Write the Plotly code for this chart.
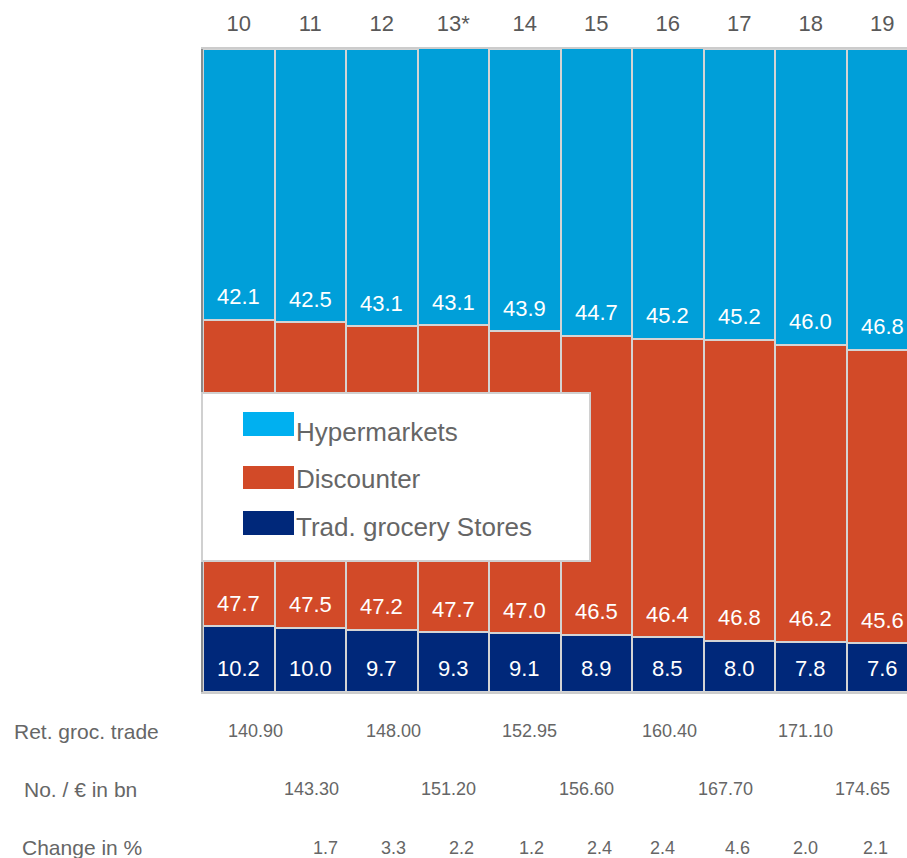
import plotly.graph_objects as go

# ---- data ----
years = ["10", "11", "12", "13*", "14", "15", "16", "17", "18", "19"]
hyper = [42.1, 42.5, 43.1, 43.1, 43.9, 44.7, 45.2, 45.2, 46.0, 46.8]
disc = [47.7, 47.5, 47.2, 47.7, 47.0, 46.5, 46.4, 46.8, 46.2, 45.6]
trad = [10.2, 10.0, 9.7, 9.3, 9.1, 8.9, 8.5, 8.0, 7.8, 7.6]
series_names = ["Hypermarkets", "Discounter", "Trad. grocery Stores"]

ret_vals = ["140.90", "148.00", "152.95", "160.40", "171.10"]
no_vals = ["143.30", "151.20", "156.60", "167.70", "174.65"]
chg_vals = ["1.7", "3.3", "2.2", "1.2", "2.4", "2.4", "4.6", "2.0", "2.1"]
row_labels = ["Ret. groc. trade", "No. / € in bn", "Change in %"]

# ---- style / positions ----
FONT = "Arial, Liberation Sans, sans-serif"
C_HYP = "#009FD9"
C_DIS = "#D24A28"
C_TRA = "#00287A"
C_LEG_HYP = "#00B0F0"
GRAY = "#666666"
W, H = 907, 858
L, T, B = 203, 49, 166
PW = W - L
PH = H - T - B
BARW = 71.5

def px_x(px):
    return (px - L) / PW

def px_y(py):
    return (T + PH - py) / PH

ret_x = [0.24, 2.16, 4.07, 6.03, 7.93]
no_x = [1.02, 2.94, 4.87, 6.81, 8.72]
chg_x = [1.21, 2.16, 3.12, 4.09, 5.05, 5.92, 6.98, 7.93, 8.90]

fig = go.Figure()
idx = list(range(len(years)))
for vals, col, name in [(trad, C_TRA, series_names[2]), (disc, C_DIS, series_names[1]), (hyper, C_HYP, series_names[0])]:
    fig.add_trace(go.Bar(x=idx, y=vals, name=name, marker=dict(color=col, line=dict(color="#d4d4d4", width=2)),
                         showlegend=False, hoverinfo="skip"))

annotations = []
for i in idx:
    bases = [0, trad[i], trad[i] + disc[i]]
    vals = [trad[i], disc[i], hyper[i]]
    shifts = [24, 23, 23]
    for b, v, s in zip(bases, vals, shifts):
        annotations.append(dict(x=i, y=b, xref="x", yref="y", text=f"{v:.1f}", showarrow=False,
                                yanchor="middle", yshift=s, font=dict(family=FONT, size=22, color="white")))

# bottom table
row_y = [px_y(731), px_y(789), px_y(848)]
row_lx = [px_x(12), px_x(22), px_x(20)]
for lab, yy, xx in zip(row_labels, row_y, row_lx):
    annotations.append(dict(x=xx, y=yy, xref="paper", yref="paper", text=lab, showarrow=False,
                            xanchor="left", yanchor="middle", font=dict(family=FONT, size=21, color=GRAY)))
for vals, xs, yy in [(ret_vals, ret_x, row_y[0]), (no_vals, no_x, row_y[1]), (chg_vals, chg_x, row_y[2])]:
    for v, xx in zip(vals, xs):
        annotations.append(dict(x=xx, y=yy, xref="x", yref="paper", text=v, showarrow=False,
                                xanchor="center", yanchor="middle", font=dict(family=FONT, size=18, color=GRAY)))

# custom legend
shapes = [dict(type="rect", xref="paper", yref="paper", x0=px_x(202), x1=px_x(590), y0=px_y(561), y1=px_y(393),
               fillcolor="white", line=dict(color="#d0d0d0", width=2), layer="above")]
leg_items = [(series_names[0], C_LEG_HYP, 412, 436, 432), (series_names[1], C_DIS, 466, 489, 479),
             (series_names[2], C_TRA, 511, 535, 527)]
for name, col, y0, y1, ty in leg_items:
    shapes.append(dict(type="rect", xref="paper", yref="paper", x0=px_x(243), x1=px_x(294), y0=px_y(y1), y1=px_y(y0),
                       fillcolor=col, line=dict(width=0), layer="above"))
    annotations.append(dict(x=px_x(294), y=px_y(ty), xref="paper", yref="paper", text=name, showarrow=False,
                            xanchor="left", yanchor="middle", font=dict(family=FONT, size=26, color=GRAY)))

fig.update_layout(
    width=W, height=H, margin=dict(l=L, r=0, t=T, b=B, pad=0),
    barmode="stack", bargap=0,
    paper_bgcolor="white", plot_bgcolor="white",
    annotations=annotations, shapes=shapes,
    xaxis=dict(side="top", tickmode="array", tickvals=idx, ticktext=years,
               range=[-0.5, -0.5 + PW / BARW], showgrid=False, zeroline=False,
               showline=True, mirror=True, linecolor="#cccccc", linewidth=2,
               ticks="", ticklabelstandoff=7, tickfont=dict(family=FONT, size=22, color="#595959")),
    yaxis=dict(range=[0, 100], showticklabels=False, showgrid=False, zeroline=False,
               showline=True, linecolor="#8c8c8c", linewidth=2, ticks=""),
)

fig.write_html("out.html")
